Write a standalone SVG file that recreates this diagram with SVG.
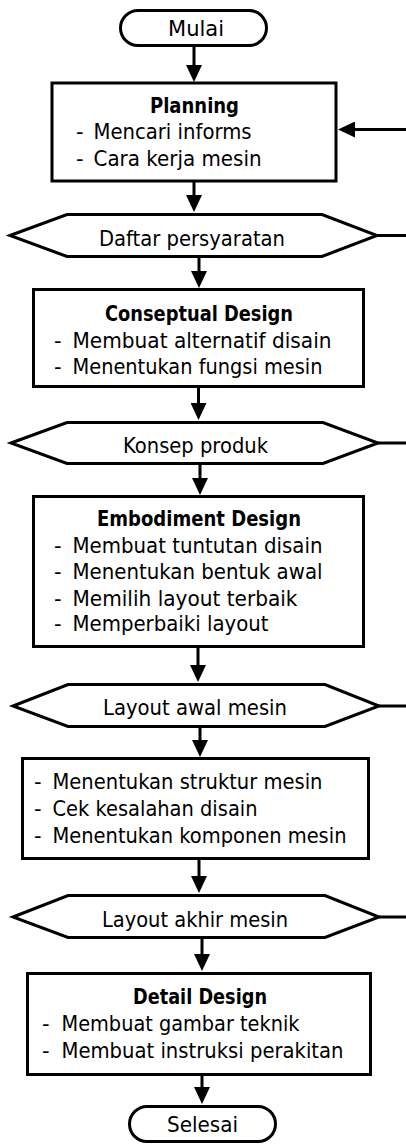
<svg xmlns="http://www.w3.org/2000/svg" width="406" height="1144" viewBox="0 0 406 1144">
<style>
.s{fill:#fff;stroke:#000;stroke-width:3;stroke-linejoin:miter}
.c{fill:none;stroke:#000;stroke-width:3}
.t{font-family:"DejaVu Sans","Liberation Sans",sans-serif;font-size:21px;fill:#000}
.b{font-weight:bold}
</style>
<defs>
<marker id="ah" markerUnits="userSpaceOnUse" viewBox="0 0 17 16" markerWidth="17" markerHeight="16" refX="7" refY="8" orient="auto">
<path d="M0,0 L17,8 L0,16 z" fill="#000"/>
</marker>
</defs>
<rect width="406" height="1144" fill="#fff"/>
<g id="connectors">
<line class="c" x1="194" y1="46" x2="194" y2="72" marker-end="url(#ah)"/>
<line class="c" x1="406" y1="129.5" x2="348" y2="129.5" marker-end="url(#ah)"/>
<line class="c" x1="194" y1="182" x2="194" y2="202" marker-end="url(#ah)"/>
<line class="c" x1="377" y1="235.5" x2="406" y2="235.5"/>
<line class="c" x1="199" y1="257" x2="199" y2="278" marker-end="url(#ah)"/>
<line class="c" x1="198.5" y1="387" x2="198.5" y2="410" marker-end="url(#ah)"/>
<line class="c" x1="378" y1="443" x2="406" y2="443"/>
<line class="c" x1="200" y1="464" x2="200" y2="485" marker-end="url(#ah)"/>
<line class="c" x1="198" y1="647" x2="198" y2="672" marker-end="url(#ah)"/>
<line class="c" x1="379" y1="706" x2="406" y2="706"/>
<line class="c" x1="200" y1="727" x2="200" y2="747" marker-end="url(#ah)"/>
<line class="c" x1="199" y1="859" x2="199" y2="883" marker-end="url(#ah)"/>
<line class="c" x1="379" y1="917" x2="406" y2="917"/>
<line class="c" x1="202" y1="938" x2="202" y2="961" marker-end="url(#ah)"/>
<line class="c" x1="202" y1="1075" x2="202" y2="1094" marker-end="url(#ah)"/>
</g>
<g id="mulai">
<rect class="s" x="120.5" y="10.5" width="146" height="35" rx="17.5"/>
<text class="t" x="168" y="35.6" textLength="56" lengthAdjust="spacingAndGlyphs">Mulai</text>
</g>
<g id="planning">
<rect class="s" x="52" y="83" width="284" height="98"/>
<text class="t b" x="150" y="113.3" textLength="89" lengthAdjust="spacingAndGlyphs">Planning</text>
<text class="t" x="76" y="139.3">-</text>
<text class="t" x="93.5" y="139.3" textLength="158" lengthAdjust="spacingAndGlyphs">Mencari informs</text>
<text class="t" x="76" y="165.7">-</text>
<text class="t" x="93.5" y="165.7" textLength="168" lengthAdjust="spacingAndGlyphs">Cara kerja mesin</text>
</g>
<g id="daftar">
<polygon class="s" points="10,235.5 67,214.5 322,214.5 377,235.5 322,256.5 67,256.5"/>
<text class="t" x="99" y="245.7" textLength="186" lengthAdjust="spacingAndGlyphs">Daftar persyaratan</text>
</g>
<g id="conseptual">
<rect class="s" x="33.5" y="289.5" width="330" height="97"/>
<text class="t b" x="105" y="320.7" textLength="188" lengthAdjust="spacingAndGlyphs">Conseptual Design</text>
<text class="t" x="54" y="347.7">-</text>
<text class="t" x="72.5" y="347.7" textLength="259" lengthAdjust="spacingAndGlyphs">Membuat alternatif disain</text>
<text class="t" x="54" y="374.3">-</text>
<text class="t" x="72.5" y="374.3" textLength="250" lengthAdjust="spacingAndGlyphs">Menentukan fungsi mesin</text>
</g>
<g id="konsep">
<polygon class="s" points="11,443 67,422.5 323,422.5 378,443 323,463.5 67,463.5"/>
<text class="t" x="123" y="453.3" textLength="145" lengthAdjust="spacingAndGlyphs">Konsep produk</text>
</g>
<g id="embodiment">
<rect class="s" x="33.5" y="496.5" width="330" height="150"/>
<text class="t b" x="97" y="526" textLength="204" lengthAdjust="spacingAndGlyphs">Embodiment Design</text>
<text class="t" x="54" y="552.7">-</text>
<text class="t" x="72.5" y="552.7" textLength="250" lengthAdjust="spacingAndGlyphs">Membuat tuntutan disain</text>
<text class="t" x="54" y="579.3">-</text>
<text class="t" x="72.5" y="579.3" textLength="250" lengthAdjust="spacingAndGlyphs">Menentukan bentuk awal</text>
<text class="t" x="54" y="605.5">-</text>
<text class="t" x="72.5" y="605.5" textLength="225" lengthAdjust="spacingAndGlyphs">Memilih layout terbaik</text>
<text class="t" x="54" y="631">-</text>
<text class="t" x="72.5" y="631" textLength="196" lengthAdjust="spacingAndGlyphs">Memperbaiki layout</text>
</g>
<g id="layout-awal">
<polygon class="s" points="13,706 68,684.5 325,684.5 379,706 325,726.5 68,726.5"/>
<text class="t" x="103" y="715" textLength="184" lengthAdjust="spacingAndGlyphs">Layout awal mesin</text>
</g>
<g id="struktur">
<rect class="s" x="22.5" y="758.5" width="346" height="100"/>
<text class="t" x="34" y="789">-</text>
<text class="t" x="52.5" y="789" textLength="270" lengthAdjust="spacingAndGlyphs">Menentukan struktur mesin</text>
<text class="t" x="34" y="815.7">-</text>
<text class="t" x="52.5" y="815.7" textLength="205" lengthAdjust="spacingAndGlyphs">Cek kesalahan disain</text>
<text class="t" x="34" y="843.3">-</text>
<text class="t" x="52.5" y="843.3" textLength="294" lengthAdjust="spacingAndGlyphs">Menentukan komponen mesin</text>
</g>
<g id="layout-akhir">
<polygon class="s" points="13,917 68,895.5 325,895.5 379,917 325,937.5 68,937.5"/>
<text class="t" x="102" y="926.7" textLength="186" lengthAdjust="spacingAndGlyphs">Layout akhir mesin</text>
</g>
<g id="detail">
<rect class="s" x="27.5" y="973.5" width="343" height="101"/>
<text class="t b" x="133" y="1004.3" textLength="134" lengthAdjust="spacingAndGlyphs">Detail Design</text>
<text class="t" x="42" y="1031">-</text>
<text class="t" x="61.5" y="1031" textLength="238" lengthAdjust="spacingAndGlyphs">Membuat gambar teknik</text>
<text class="t" x="42" y="1057.7">-</text>
<text class="t" x="61.5" y="1057.7" textLength="282" lengthAdjust="spacingAndGlyphs">Membuat instruksi perakitan</text>
</g>
<g id="selesai">
<rect class="s" x="129.5" y="1106.5" width="146" height="35" rx="17.5"/>
<text class="t" x="167" y="1132" textLength="71" lengthAdjust="spacingAndGlyphs">Selesai</text>
</g>
</svg>
